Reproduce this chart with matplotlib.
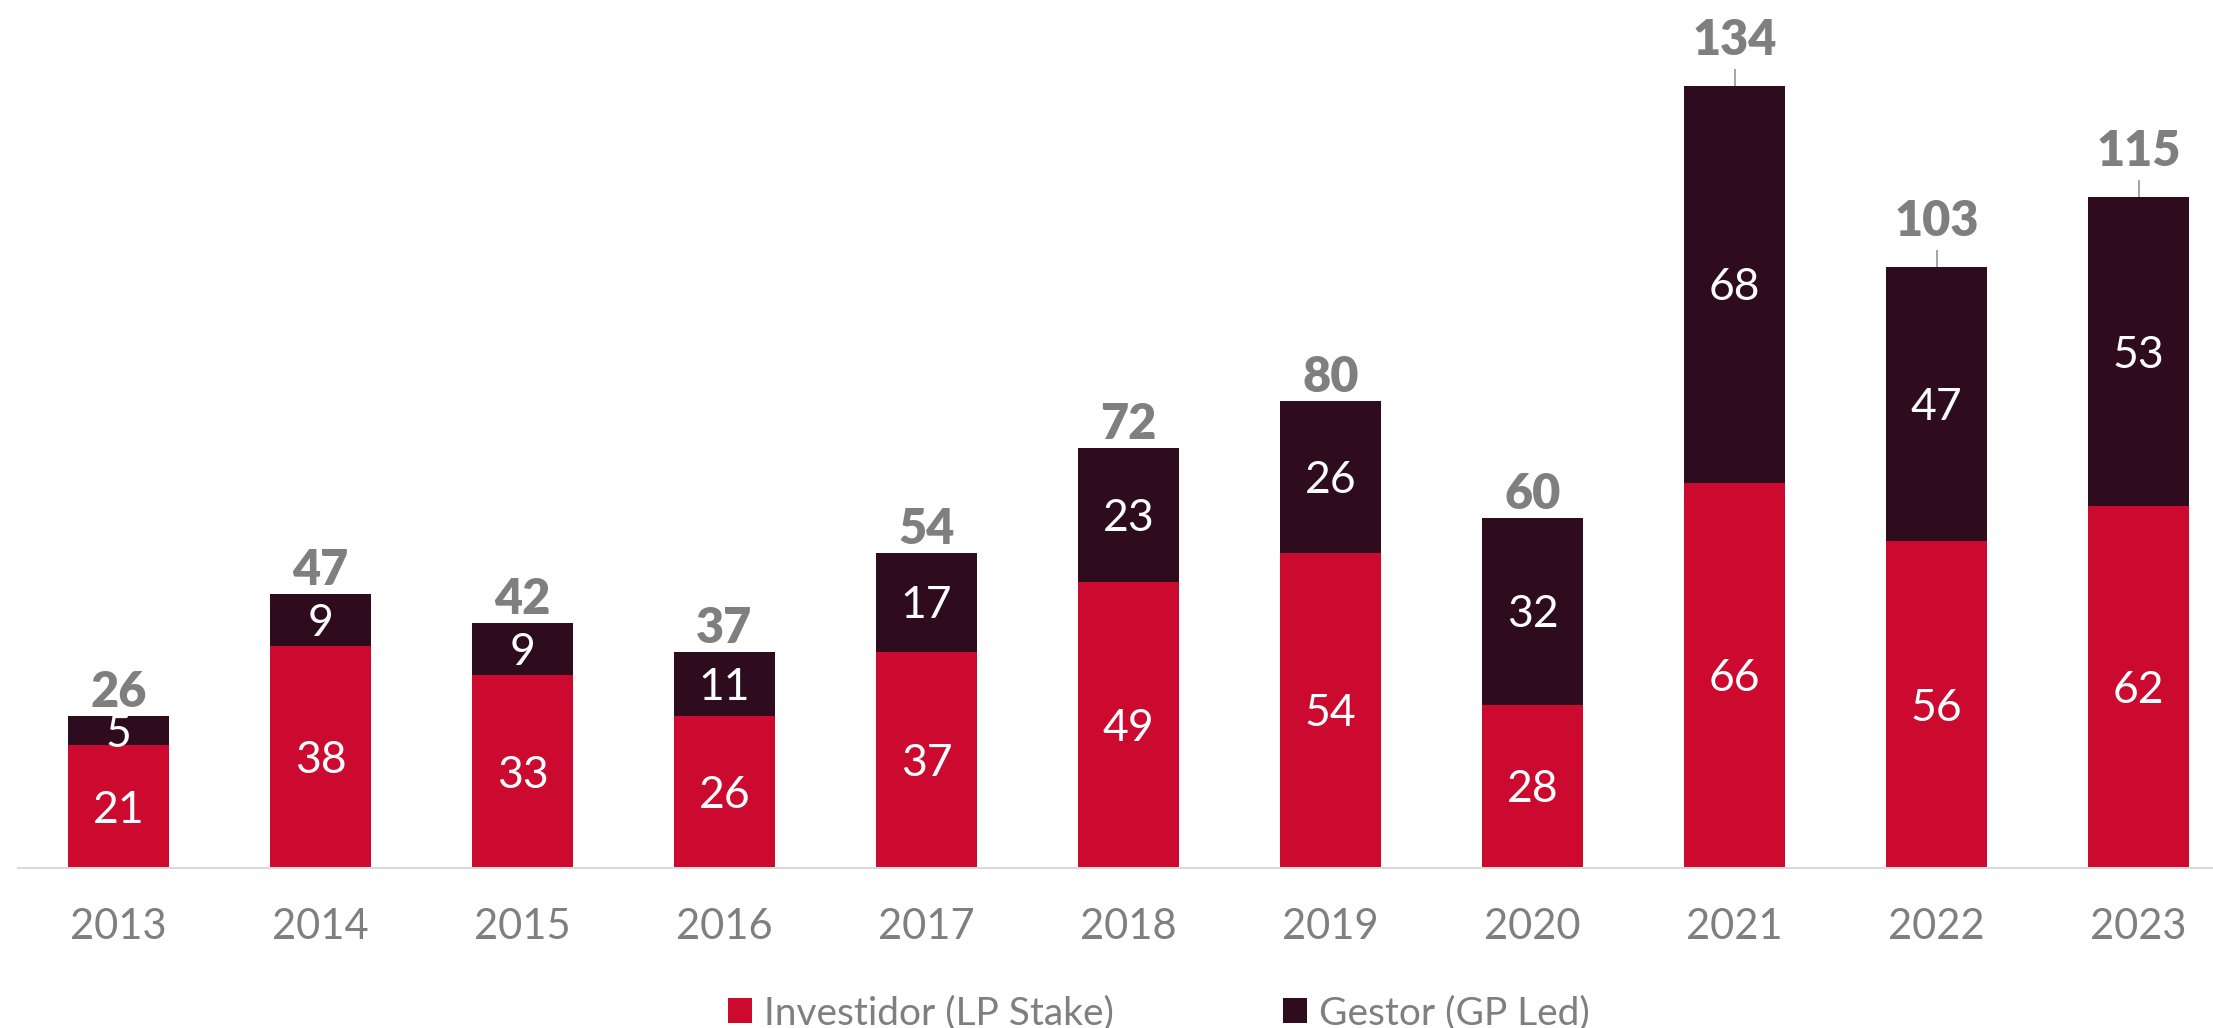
import matplotlib
matplotlib.use("Agg")
import matplotlib.pyplot as plt
from matplotlib.patches import Patch

years = ["2013", "2014", "2015", "2016", "2017", "2018", "2019", "2020", "2021", "2022", "2023"]
lp_stake = [21, 38, 33, 26, 37, 49, 54, 28, 66, 56, 62]
gp_led = [5, 9, 9, 11, 17, 23, 26, 32, 68, 47, 53]
totals = [26, 47, 42, 37, 54, 72, 80, 60, 134, 103, 115]
series_names = ["Investidor (LP Stake)", "Gestor (GP Led)"]

RED = "#CC0A2F"
DARK = "#2E0C1E"
GRAY = "#7F7F7F"
FONT = ["Lato", "DejaVu Sans"]

plt.rcParams["font.family"] = FONT

W, H = 2213, 1028
DPI = 100
fig = plt.figure(figsize=(W / DPI, H / DPI), dpi=DPI)
PX = 72 / DPI  # points per pixel

base_px = 868
left_px = 18
ax = fig.add_axes([left_px / W, (H - base_px) / H, (W - left_px) / W, base_px / H])
px_per_unit = 5.836
ax.set_ylim(0, base_px / px_per_unit)
slot = 202
first_center = 118.5
ax.set_xlim((left_px - first_center) / slot, (W - first_center) / slot)

x = list(range(len(years)))
ax.bar(x, lp_stake, width=0.5, color=RED, label=series_names[0])
ax.bar(x, gp_led, width=0.5, bottom=lp_stake, color=DARK, label=series_names[1])

for s in ["top", "left", "right"]:
    ax.spines[s].set_visible(False)
ax.spines["bottom"].set_color("#D9D9D9")
ax.spines["bottom"].set_linewidth(2 * PX)
ax.set_yticks([])
ax.set_xticks([])

seg_fs = 32
for i in x:
    # segment labels
    ax.annotate(str(lp_stake[i]), xy=(i, lp_stake[i] / 2), xytext=(0, -16 * PX),
                textcoords="offset points", ha="center", va="baseline",
                color="white", fontsize=seg_fs)
    ax.annotate(str(gp_led[i]), xy=(i, lp_stake[i] + gp_led[i] / 2), xytext=(0, -16 * PX),
                textcoords="offset points", ha="center", va="baseline",
                color="white", fontsize=seg_fs)
    # totals
    top = lp_stake[i] + gp_led[i]
    leader = totals[i] >= 100
    off = 31 if leader else 9
    ax.annotate(str(totals[i]), xy=(i, top), xytext=(0, off * PX),
                textcoords="offset points", ha="center", va="baseline",
                color=GRAY, fontsize=35, fontweight="heavy")
    if leader:
        ax.plot([i, i], [top, top + 17 / px_per_unit], color="#A6A6A6", lw=2 * PX,
                solid_capstyle="butt")
    # year labels
    ax.annotate(years[i], xy=(i, 0), xytext=(0, -71 * PX), textcoords="offset points",
                ha="center", va="baseline", color=GRAY, fontsize=30, fontweight="normal",
                annotation_clip=False)

handles = [Patch(facecolor=RED), Patch(facecolor=DARK)]
fig.legend(handles, series_names, loc="lower left", bbox_to_anchor=(728 / W, -3 / H),
           ncol=2, frameon=False, fontsize=28, borderpad=0, borderaxespad=0,
           handlelength=0.62, handleheight=0.62, handletextpad=0.3, columnspacing=4.35,
           labelcolor=GRAY)

fig.savefig("out.png", dpi=DPI)
